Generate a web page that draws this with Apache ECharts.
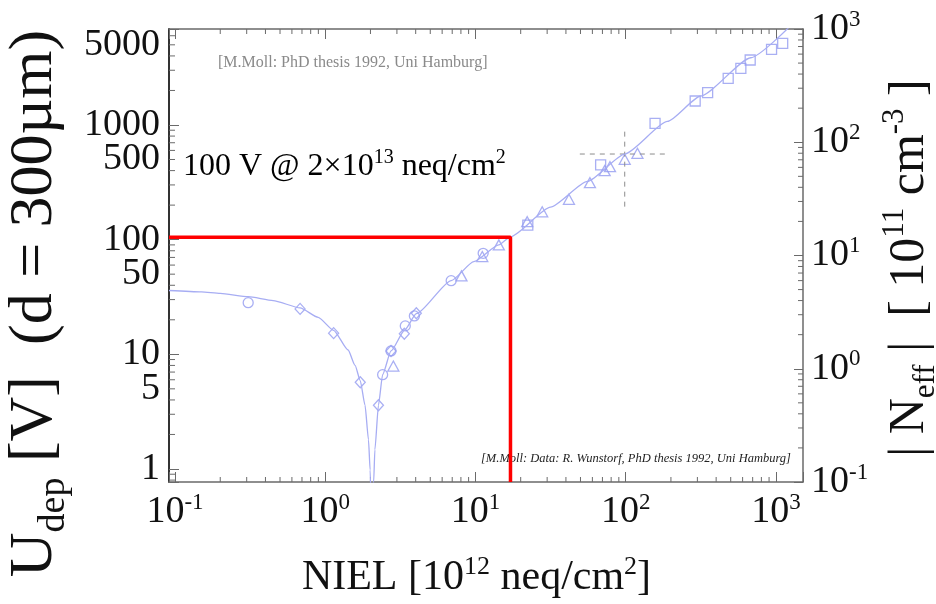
<!DOCTYPE html>
<html><head><meta charset="utf-8">
<script src="https://cdn.jsdelivr.net/npm/echarts@6/dist/echarts.min.js"></script>
<style>html,body{margin:0;padding:0;background:#fff}#c{width:936px;height:604px}</style>
</head><body><div id="c"></div>
<script>
// ---- axis ranges ----
const xMin = 0.0912, xMax = 1514;      // NIEL [1e12 neq/cm2]
const uMin = 0.77, uMax = 6870;        // Udep [V]
const nMin = 0.1, nMax = 1000;         // |Neff| [1e11 cm-3]

// ---- fitted curve ----
const fitCurve = [[0.0912,36.0],[0.15,35.0],[0.2,34.0],[0.307,31.8],[0.45,29.4],[0.68,25.4],[0.898,21.0],[1.137,16.2],[1.42,10.9],[1.58,8.0],[1.71,5.9],[1.84,3.6],[1.94,1.8],[1.99,0.98],[2.04,0.3],[2.1,0.77],[2.14,1.47],[2.26,3.6],[2.41,6.65],[2.74,10.7],[3.38,16.3],[4.04,22.6],[6.9,44],[9.75,64.3],[14.3,90],[17.1,106],[31.6,192],[55.6,322],[98.5,558],[189.6,1074],[316,1790],[681,3858],[1226,7150]];

// ---- measured points ----
const circles = [[0.307,28.2],[2.41,6.65],[2.74,10.7],[3.41,17.7],[3.92,21.6],[6.89,43.9],[11.25,76]];
const diamonds = [[0.68,24.9],[1.137,15.3],[1.71,5.7],[2.26,3.6],[2.74,10.7],[3.36,15.1],[4.04,22.8]];
const triangles = [[2.84,7.9],[8.07,48.3],[11.1,71.2],[14.3,90],[22.1,143.5],[27.8,175],[41.9,225],[57.8,314],[72.4,400],[78.6,433],[98.5,502],[119.7,566]];
const squares = [[22.3,134],[68.1,448],[156.8,1034],[290,1618],[351,1914],[481,2553],[584,3120],[674,3686],[935,4571],[1109,5150]];

// ---- reference markers ----
const refFluence = 17.1, refVoltage = 105;
const crossV = [[98.5,194],[98.5,906]];
const crossH = [[49.5,558],[191,558]];

// ---- tick values ----
const uLabels = [1,5,10,50,100,500,1000,5000];
const xMinor = [0.2,0.3,0.4,0.5,0.6,0.7,0.8,0.9,2,3,4,5,6,7,8,9,20,30,40,50,60,70,80,90,200,300,400,500,600,700,800,900];
const uMinor = [0.8,0.9,2,3,4,5,6,7,8,9,20,30,40,50,60,70,80,90,200,300,400,500,600,700,800,900,2000,3000,4000,5000,6000];
const nMinor = [0.2,0.3,0.4,0.5,0.6,0.7,0.8,0.9,2,3,4,5,6,7,8,9,20,30,40,50,60,70,80,90,200,300,400,500,600,700,800,900];

const SERIF = "'Liberation Serif','Times New Roman',serif";
const curveColor = '#a7adf3';
const markColor = '#939bf0';
const frameColor = '#6a6a6a';

function powLabel(v){
  const e = Math.log10(v);
  const r = Math.round(e);
  if (Math.abs(e - r) > 1e-6) return '';
  return '{b|10}{s|' + r + '}';
}
const powRich = {
  b:{fontSize:38, lineHeight:42, fontFamily:SERIF, color:'#111'},
  s:{fontSize:23, lineHeight:25, fontFamily:SERIF, color:'#111', verticalAlign:'top'}
};

function tickLine(x1,y1,x2,y2){
  return {type:'line', shape:{x1,y1,x2,y2}, style:{stroke:frameColor, lineWidth:1}};
}

const chart = echarts.init(document.getElementById('c'), null, {renderer:'canvas'});
chart.setOption({
  animation:false,
  backgroundColor:'#fff',
  grid:{left:169, right:133, top:29, bottom:122, containLabel:false, outerBoundsMode:'none'},
  xAxis:[{
    type:'log', min:xMin, max:xMax, position:'bottom',
    axisLine:{show:true, onZero:false, lineStyle:{color:frameColor, width:1.5}},
    axisTick:{show:true, inside:true, length:10, lineStyle:{color:frameColor, width:1}},
    axisLabel:{margin:9, formatter:powLabel, rich:powRich, showMinLabel:true, showMaxLabel:true},
    splitLine:{show:false}, minorTick:{show:false},
    name:'{t|NIEL [10}{sp|12}{t| neq/cm}{sp|2}{t|]}',
    nameLocation:'middle', nameGap:72,
    nameTextStyle:{padding:[0,19,0,0], rich:{
      t:{fontSize:42, lineHeight:48, fontFamily:SERIF, color:'#111'},
      sp:{fontSize:26, lineHeight:30, fontFamily:SERIF, color:'#111', verticalAlign:'top'}
    }}
  },{
    type:'log', min:xMin, max:xMax, position:'top',
    axisLine:{show:true, onZero:false, lineStyle:{color:frameColor, width:1.5}},
    axisTick:{show:true, inside:true, length:10, lineStyle:{color:frameColor, width:1}},
    axisLabel:{show:false}, splitLine:{show:false}
  }],
  yAxis:[{
    type:'log', min:uMin, max:uMax, position:'left',
    axisLine:{show:true, onZero:false, lineStyle:{color:'#333', width:2}},
    axisTick:{show:true, inside:true, length:10, lineStyle:{color:frameColor, width:1}},
    axisLabel:{margin:9, customValues:uLabels, formatter:function(v){return String(Math.round(v));},
      fontSize:38, fontFamily:SERIF, color:'#111'},
    splitLine:{show:false},
    name:'{t|U}{sub|dep}{t| [V]  (d = 300\u00b5m)}',
    nameLocation:'middle', nameRotate:90, nameGap:92,
    nameTextStyle:{padding:[0,96,0,0], rich:{
      t:{fontSize:62, lineHeight:76, fontFamily:SERIF, color:'#111'},
      sub:{fontSize:38, lineHeight:40, fontFamily:SERIF, color:'#111', verticalAlign:'bottom'}
    }}
  },{
    type:'log', min:nMin, max:nMax, position:'right',
    axisLine:{show:true, onZero:false, lineStyle:{color:frameColor, width:1.5}},
    axisTick:{show:true, inside:true, length:9, lineStyle:{color:frameColor, width:1}},
    axisLabel:{margin:8, formatter:powLabel, rich:powRich},
    splitLine:{show:false},
    name:'{t|| N}{sub|eff}{t| |  [ 10}{sp|11}{t| cm}{sp|-3}{t| ]}',
    nameLocation:'middle', nameRotate:90, nameGap:70,
    nameTextStyle:{padding:[0,25,0,0], rich:{
      t:{fontSize:50, lineHeight:62, fontFamily:SERIF, color:'#111'},
      sub:{fontSize:31, lineHeight:33, fontFamily:SERIF, color:'#111', verticalAlign:'bottom'},
      sp:{fontSize:31, lineHeight:36, fontFamily:SERIF, color:'#111', verticalAlign:'top'}
    }}
  }],
  graphic:[
    {type:'text', x:218, y:63, silent:true, style:{text:'[M.Moll: PhD thesis 1992, Uni Hamburg]',
      font:'16px ' + SERIF, fill:'#8a8a8a', verticalAlign:'middle', align:'left'}},
    {type:'text', x:183, y:167, silent:true, style:{
      text:'{a|100 V @ 2\u00d710}{p|13}{a| neq/cm}{p|2}', verticalAlign:'middle', align:'left',
      rich:{a:{fontSize:32, lineHeight:38, fontFamily:SERIF, fill:'#000'},
            p:{fontSize:20, lineHeight:23, fontFamily:SERIF, fill:'#000', verticalAlign:'top'}}}},
    {type:'text', x:481, y:459, silent:true, style:{text:'[M.Moll: Data: R. Wunstorf, PhD thesis 1992, Uni Hamburg]',
      font:'italic 12.5px ' + SERIF, fill:'#222', verticalAlign:'middle', align:'left'}}
  ],
  series:[
    {type:'custom', name:'xMinorTicks', xAxisIndex:0, yAxisIndex:0, silent:true, z:1,
      data:xMinor.map(v => [v, 10]),
      renderItem:function(params, api){
        const cs = params.coordSys;
        const px = api.coord([api.value(0), api.value(1)])[0];
        const b = cs.y + cs.height;
        return {type:'group', children:[tickLine(px,b,px,b-5), tickLine(px,cs.y,px,cs.y+5)]};
      }},
    {type:'custom', name:'uMinorTicks', xAxisIndex:0, yAxisIndex:0, silent:true, z:1,
      data:uMinor.map(v => [1, v]),
      renderItem:function(params, api){
        const cs = params.coordSys;
        const py = api.coord([api.value(0), api.value(1)])[1];
        return tickLine(cs.x, py, cs.x+6, py);
      }},
    {type:'custom', name:'nMinorTicks', xAxisIndex:0, yAxisIndex:1, silent:true, z:1,
      data:nMinor.map(v => [1, v]),
      renderItem:function(params, api){
        const cs = params.coordSys;
        const py = api.coord([api.value(0), api.value(1)])[1];
        const r = cs.x + cs.width;
        return tickLine(r, py, r-5, py);
      }},
    {type:'line', name:'crossV', data:crossV, xAxisIndex:0, yAxisIndex:0, symbol:'none', silent:true,
      lineStyle:{color:'#8c8c8c', width:1, type:[5,5]}},
    {type:'line', name:'crossH', data:crossH, xAxisIndex:0, yAxisIndex:0, symbol:'none', silent:true,
      lineStyle:{color:'#8c8c8c', width:1, type:[5,5]}},
    {type:'line', name:'fit', data:fitCurve, xAxisIndex:0, yAxisIndex:0, symbol:'none', clip:true,
      smooth:0.2, smoothMonotone:'x', lineStyle:{color:curveColor, width:1.3}},
    {type:'scatter', name:'circles', data:circles, symbol:'circle', symbolSize:10,
      itemStyle:{color:'rgba(0,0,0,0)', borderColor:markColor, borderWidth:1.3}},
    {type:'scatter', name:'diamonds', data:diamonds, symbol:'diamond', symbolSize:[10,11],
      itemStyle:{color:'rgba(0,0,0,0)', borderColor:markColor, borderWidth:1.3}},
    {type:'scatter', name:'triangles', data:triangles, symbol:'triangle', symbolSize:[11,10],
      itemStyle:{color:'rgba(0,0,0,0)', borderColor:markColor, borderWidth:1.3}},
    {type:'scatter', name:'squares', data:squares, symbol:'rect', symbolSize:10,
      itemStyle:{color:'rgba(0,0,0,0)', borderColor:markColor, borderWidth:1.3}},
    {type:'line', name:'ref', data:[[xMin,refVoltage],[refFluence,refVoltage],[refFluence,uMin]],
      xAxisIndex:0, yAxisIndex:0, symbol:'none', z:10, clip:false,
      lineStyle:{color:'#ff0000', width:3.5}}
  ]
});
</script></body></html>
